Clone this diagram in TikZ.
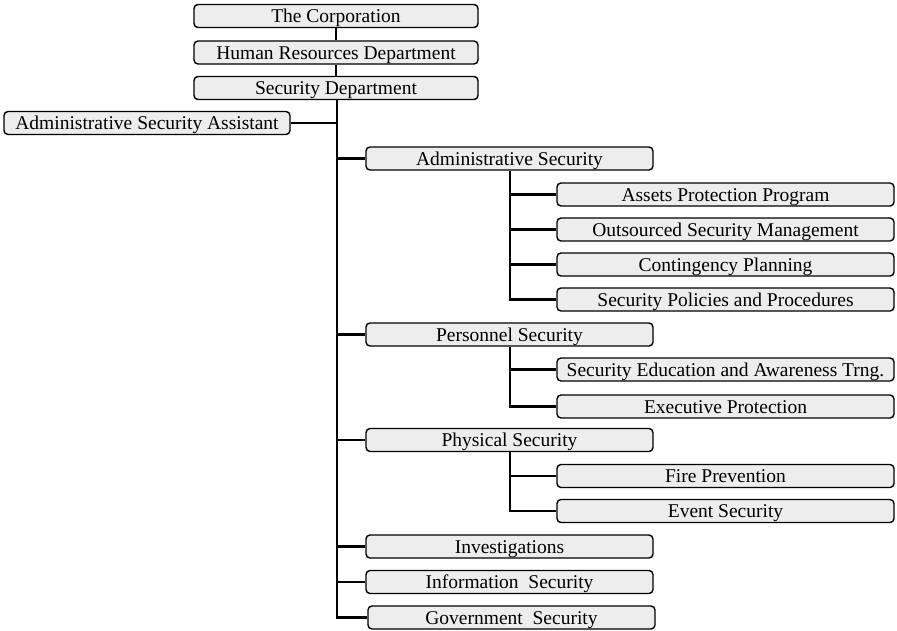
\documentclass[tikz,border=0pt]{standalone}
\usepackage{fontspec}
\setmainfont{Liberation Serif}
\begin{document}
\begin{tikzpicture}[x=1pt,y=-1pt,
  orgbox/.style={draw=black, line width=1.4pt, rounded corners=4pt, fill=black!7,
    inner sep=0pt, minimum height=23pt, text height=16pt, text depth=3pt,
    font=\fontsize{19.5}{22}\selectfont},
  topbox/.style={orgbox, minimum width=284pt},
  midbox/.style={orgbox, minimum width=287pt},
  subbox/.style={orgbox, minimum width=337pt},
  link/.style={line width=2.8pt},
  thinlink/.style={line width=2.2pt}]
\useasboundingbox (0,0) rectangle (897,630);

% top of the hierarchy
\node[topbox] (corp) at (336,16) {The Corporation};
\node[topbox] (hr)   at (336,52.5) {Human Resources Department};
\node[topbox] (sec)  at (336,88) {Security Department};
\node[orgbox, minimum width=286pt] (asst) at (147,123) {Administrative Security Assistant};

% divisions
\node[midbox] (adm)  at (509.5,158.5) {Administrative Security};
\node[midbox] (pers) at (509.5,334.5) {Personnel Security};
\node[midbox] (phys) at (509.5,440) {Physical Security};
\node[midbox] (inv)  at (509.5,546.5) {Investigations};
\node[midbox] (info) at (509.5,582) {Information~~Security};
\node[midbox] (gov)  at (511.5,617.5) {Government~~Security};

% programs
\node[subbox] (app)   at (725.5,194.5) {Assets Protection Program};
\node[subbox] (osm)   at (725.5,229.5) {Outsourced Security Management};
\node[subbox] (cp)    at (725.5,264.5) {Contingency Planning};
\node[subbox] (spp)   at (725.5,299.5) {Security Policies and Procedures};
\node[subbox] (sea)   at (725.5,369.5) {Security Education and Awareness Trng.};
\node[subbox] (ep)    at (725.5,406.5) {Executive Protection};
\node[subbox] (fire)  at (725.5,476) {Fire Prevention};
\node[subbox] (event) at (725.5,511) {Event Security};

% connectors
\coordinate (trunk) at (337,0);
\coordinate (subx) at (510,0);
\draw[link] (corp) -- (hr);
\draw[link] (hr) -- (sec);
\draw[link] (sec.south -| trunk) -- (info.west -| trunk);
\draw[thinlink] (info.west -| trunk) -- (gov.west -| trunk) -- (gov.west);
\draw[link] (asst.east) -- (asst.east -| trunk);
\foreach \n in {adm,pers,phys,inv,info}
  \draw[link] (\n.west -| trunk) -- (\n.west);

\draw[link] (adm.south -| subx) -- (spp.west -| subx) -- (spp.west);
\foreach \n in {app,osm,cp}
  \draw[link] (\n.west -| subx) -- (\n.west);
\draw[link] (pers.south -| subx) -- (ep.west -| subx) -- (ep.west);
\draw[link] (sea.west -| subx) -- (sea.west);
\draw[link] (phys.south -| subx) -- (event.west -| subx) -- (event.west);
\draw[link] (fire.west -| subx) -- (fire.west);
\end{tikzpicture}
\end{document}
